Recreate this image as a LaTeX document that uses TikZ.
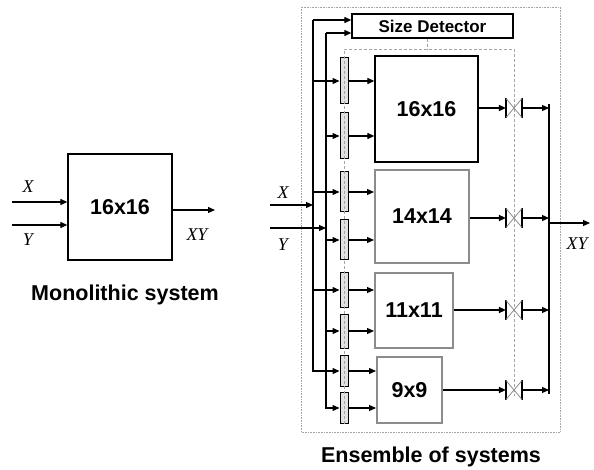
\documentclass[tikz,border=0pt]{standalone}
\usepackage{fontspec}
\newfontfamily\helv{Liberation Sans}
\newfontfamily\tms{Liberation Serif}
\usetikzlibrary{arrows.meta}

\definecolor{bgry}{RGB}{140,140,140}
\definecolor{dgry}{RGB}{165,165,165}
\definecolor{rgry}{RGB}{225,225,225}

\tikzset{
	sysbox/.style={draw, line width=1.3pt, inner sep=0pt, font=\helv\bfseries\fontsize{21.5}{25}\selectfont},
	grybox/.style={sysbox, draw=bgry, line width=2pt},
	regbox/.style={draw, line width=1pt, fill=rgry, minimum width=8pt, inner sep=0pt},
	swbox/.style={minimum width=15pt, minimum height=18pt, inner sep=0pt},
	lbl/.style={inner sep=0pt, font=\tms\itshape\fontsize{18}{20}\selectfont},
	captxt/.style={inner sep=0pt, font=\helv\bfseries\fontsize{21.5}{25}\selectfont},
	ctlline/.style={dgry, line width=0.9pt, densely dashed},
}

\begin{document}
\begin{tikzpicture}[x=1pt, y=-1pt, line width=1.2pt, >={Triangle[length=7pt,width=6pt]}]
	\useasboundingbox (0,0) rectangle (594,470);

	% --- Monolithic system ---
	\node[sysbox, minimum width=104pt, minimum height=106pt] (mono) at (120,207) {16x16};
	\coordinate (mx) at (12,202);
	\coordinate (my) at (12,225);
	\coordinate (mo) at (215,210);
	\draw[->] (mx) -- (mx -| mono.west);
	\draw[->] (my) -- (my -| mono.west);
	\draw[->] (mo -| mono.east) -- (mo);
	\node[lbl] (mxl) at (28,187) {X};
	\node[lbl] (myl) at (28,240) {Y};
	\node[lbl] (mol) at (197,235) {XY};
	\node[captxt] (mcap) at (125,295) {Monolithic system};

	% --- Ensemble of systems ---
	\begin{scope}[xshift=300pt]
		\draw[dgry, line width=0.6pt, densely dotted] (1,7) rectangle (260,432);
		\node[sysbox, minimum width=161pt, minimum height=24pt,
			font=\helv\bfseries\fontsize{17}{20}\selectfont] (det) at (132.5,26) {Size Detector};

		% blocks
		\node[sysbox, minimum width=103pt, minimum height=106pt] (b16) at (126.5,109) {16x16};
		\node[grybox, minimum width=94pt, minimum height=93pt] (b14) at (122,216.5) {14x14};
		\node[grybox, minimum width=78pt, minimum height=75pt] (b11) at (114,310.5) {11x11};
		\node[grybox, minimum width=65pt, minimum height=66pt] (b9) at (109.5,390) {9x9};

		% registers
		\foreach \n/\ya/\yb/\h in {16/81/136/46, 14/192/240/40, 11/290/331/34, 9/371/408/31} {
				\node[regbox, minimum height=\h pt] (ra\n) at (44,\ya) {};
				\node[regbox, minimum height=\h pt] (rb\n) at (44,\yb) {};
				\draw[->] (ra\n.east) -- (ra\n.east -| b\n.west);
				\draw[->] (rb\n.east) -- (rb\n.east -| b\n.west);
			}

		% control lines (through registers and switches)
		\coordinate (ctl) at (127,49);
		\coordinate (cl) at (44,49);
		\coordinate (cr) at (214,49);
		\draw[ctlline] (det.south -| ctl) -- (ctl);
		\draw[ctlline] (rb9.south) -- (cl) -- (cr) -- (214,396);

		% input buses
		\coordinate (xin) at (-30,205);
		\coordinate (yin) at (-30,228);
		\coordinate (xb) at (13,20);
		\coordinate (yb) at (26,33);
		\draw[->] (xin) -- (xin -| xb);
		\draw[->] (yin) -- (yin -| yb);
		\draw[->] (xb) -- (xb -| det.west);
		\draw[->] (yb) -- (yb -| det.west);
		\draw[->] (xb) -- (xb |- ra9.west) -- (ra9.west);
		\draw[->] (yb) -- (yb |- rb9.west) -- (rb9.west);
		\foreach \n in {16,14,11} {
				\draw[->] (ra\n.west -| xb) -- (ra\n.west);
				\draw[->] (rb\n.west -| yb) -- (rb\n.west);
			}
		\node[lbl] (xl) at (-17,193) {X};
		\node[lbl] (yl) at (-17,245) {Y};

		% switches and output merge
		\coordinate (mtop) at (249,104);
		\coordinate (mbot) at (249,394);
		\draw (mtop) -- (mbot);
		\foreach \n/\y in {16/108, 14/218, 11/310, 9/390} {
				\node[swbox] (s\n) at (214,\y) {};
				\draw[->] (s\n -| b\n.east) -- (s\n.west);
				\draw[->] (s\n.east) -- (s\n.east -| mtop);
				\draw[line width=1.3pt] (s\n.north west) -- (s\n.south west);
				\draw[line width=1.3pt] (s\n.north east) -- (s\n.south east);
				\draw[bgry, line width=0.8pt] (s\n.north west) -- (s\n.south east);
				\draw[bgry, line width=0.8pt] (s\n.south west) -- (s\n.north east);
			}
		\coordinate (eo) at (290,223);
		\draw[->] (eo -| mtop) -- (eo);
		\node[lbl] (eol) at (277,244) {XY};
		\node[captxt] (ecap) at (131,457) {Ensemble of systems};
	\end{scope}

\end{tikzpicture}
\end{document}
